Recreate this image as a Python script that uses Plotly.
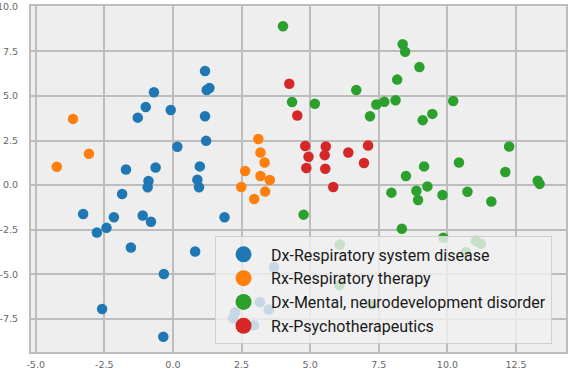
import plotly.graph_objects as go

# Dx-Respiratory system disease
resp_dx_x = [-0.69, -0.99, -1.28, -0.08, 0.16, -1.71, -0.63, -0.89, -0.92, -1.85,
             -3.27, -2.15, -1.10, -0.80, -2.42, -2.77, -1.53, 0.81, -0.33, -2.58,
             -0.35, 0.98, 0.89, 0.95, 1.17, 1.23, 1.33, 1.17, 1.21, 1.88,
             3.69, 3.17, 3.49, 2.26, 2.19, 2.95]
resp_dx_y = [5.20, 4.38, 3.78, 4.21, 2.15, 0.88, 0.99, 0.23, -0.12, -0.49,
             -1.61, -1.80, -1.70, -2.05, -2.39, -2.65, -3.49, -3.71, -4.97, -6.93,
             -8.49, 1.05, 0.31, -0.12, 6.39, 5.33, 5.44, 3.86, 2.48, -1.80,
             -4.58, -6.55, -6.96, -7.13, -7.45, -7.84]

# Rx-Respiratory therapy
resp_rx_x = [-4.23, -3.64, -3.06, 3.11, 3.19, 3.34, 2.63, 3.19, 3.53, 2.49, 3.36, 2.96]
resp_rx_y = [1.03, 3.71, 1.76, 2.58, 1.83, 1.27, 0.79, 0.51, 0.29, -0.10, -0.36, -0.77]

# Dx-Mental, neurodevelopment disorder
mental_dx_x = [4.01, 6.68, 4.34, 5.17, 7.41, 7.70, 8.11, 8.17, 8.37, 8.46,
               8.98, 7.18, 10.21, 9.45, 9.10, 12.25, 10.42, 12.11, 13.29, 13.36,
               9.15, 8.49, 7.96, 8.87, 8.93, 9.27, 9.82, 10.73, 11.60, 8.34,
               4.76, 6.08, 6.06, 7.24, 9.85, 11.04, 11.22, 10.67]
mental_dx_y = [8.90, 5.33, 4.66, 4.56, 4.52, 4.67, 4.75, 5.91, 7.89, 7.47,
               6.61, 3.86, 4.71, 3.99, 3.64, 2.16, 1.27, 0.74, 0.25, 0.07,
               1.05, 0.51, -0.42, -0.31, -0.83, -0.07, -0.55, -0.37, -0.91, -2.44,
               -1.65, -3.32, -5.61, -6.68, -2.94, -3.13, -3.28, -3.75]

# Rx-Psychotherapeutics
psych_rx_x = [4.24, 4.53, 4.82, 5.57, 4.94, 5.53, 6.39, 7.11, 4.86, 5.55, 6.96, 5.84]
psych_rx_y = [5.68, 3.90, 2.19, 2.16, 1.59, 1.68, 1.83, 2.22, 0.96, 0.92, 1.24, -0.10]

# tick labels (plain hyphen minus, as in the source image)
x_tick_vals = [-5.0, -2.5, 0.0, 2.5, 5.0, 7.5, 10.0, 12.5]
x_tick_text = ["-5.0", "-2.5", "0.0", "2.5", "5.0", "7.5", "10.0", "12.5"]
y_tick_vals = [-7.5, -5.0, -2.5, 0.0, 2.5, 5.0, 7.5, 10.0]
y_tick_text = ["-7.5", "-5.0", "-2.5", "0.0", "2.5", "5.0", "7.5", "10.0"]

series = [
    ("Dx-Respiratory system disease", resp_dx_x, resp_dx_y, "#1f77b4"),
    ("Rx-Respiratory therapy", resp_rx_x, resp_rx_y, "#ff7f0e"),
    ("Dx-Mental, neurodevelopment disorder", mental_dx_x, mental_dx_y, "#2ca02c"),
    ("Rx-Psychotherapeutics", psych_rx_x, psych_rx_y, "#d62728"),
]

fig = go.Figure()
for i, (name, xs, ys, color) in enumerate(series):
    fig.add_trace(go.Scatter(
        x=xs, y=ys, mode="markers", name=name, showlegend=False,
        marker=dict(size=10.5, color=color, line=dict(width=0)),
    ))
    # legend-only entry so the legend symbol can be drawn larger
    fig.add_trace(go.Scatter(
        x=[None], y=[None], mode="markers", name=name, legendgroup=str(i),
        marker=dict(size=20, color=color, line=dict(width=0)),
    ))

axis_style = dict(
    showgrid=True, gridcolor="#bdbdbd", gridwidth=1.5,
    zeroline=False, showline=True, linecolor="#bdbdbd", linewidth=2, mirror=True,
    ticks="", tickmode="array", automargin=False, ticklabeloverflow="allow",
    tickfont=dict(family="DejaVu Sans", size=9.5, color="#666666"),
)

fig.update_layout(
    width=568, height=370,
    margin=dict(l=31, r=2, t=6, b=18),
    paper_bgcolor="white", plot_bgcolor="#eeeeee",
    xaxis=dict(range=[-5.17, 14.32], tickvals=x_tick_vals, ticktext=x_tick_text,
               ticklabelstandoff=3, **axis_style),
    yaxis=dict(range=[-9.34, 10.03], tickvals=y_tick_vals, ticktext=y_tick_text,
               ticklabelstandoff=9, **axis_style),
    legend=dict(
        x=0.344, y=0.334, xanchor="left", yanchor="top",
        bgcolor="rgba(240,240,240,0.8)", bordercolor="#d0d0d0", borderwidth=1,
        font=dict(family="Roboto", size=16, color="#1a1a1a"),
        tracegroupgap=0, itemsizing="trace", itemwidth=45,
    ),
)

# the page body has a default 8px margin; drop it so the figure fills the window
fig.write_html("out.html", config={"displayModeBar": False},
               post_script="document.body.style.margin='0px';")
